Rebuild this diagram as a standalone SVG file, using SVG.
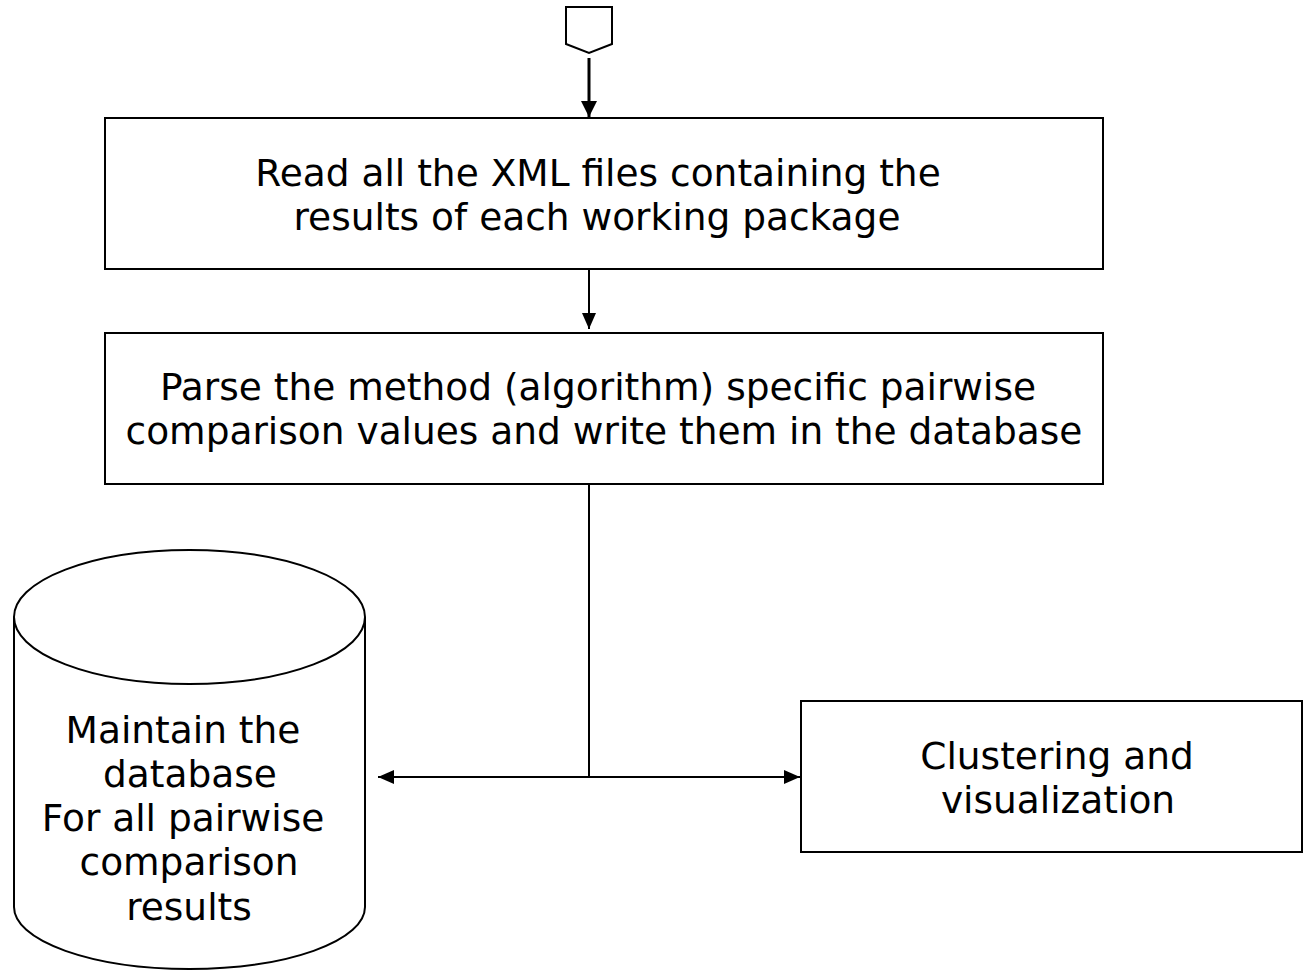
<svg xmlns="http://www.w3.org/2000/svg" width="1303" height="971" viewBox="0 0 1303 971">
<style>
.s{fill:#fff;stroke:#000;stroke-width:2}
.t{font-family:"DejaVu Sans",sans-serif;font-size:37.5px;fill:#000;text-anchor:middle}
.c{stroke:#000;stroke-width:2;fill:none}
</style>
<defs>
<marker id="ah" viewBox="0 0 16 14" refX="16" refY="7" markerWidth="16" markerHeight="14" markerUnits="userSpaceOnUse" orient="auto-start-reverse"><path d="M0,0L16,7L0,14z" fill="#000"/></marker>
<marker id="ahb" viewBox="0 0 16 16" refX="16" refY="8" markerWidth="16" markerHeight="16" markerUnits="userSpaceOnUse" orient="auto"><path d="M0,0L16,8L0,16z" fill="#000"/></marker>
</defs>
<rect width="1303" height="971" fill="#fff"/>
<g id="connectors">
<line x1="589" y1="58" x2="589" y2="117" stroke="#000" stroke-width="3" marker-end="url(#ahb)"/>
<line x1="589" y1="269" x2="589" y2="329" class="c" marker-end="url(#ah)"/>
<line x1="589" y1="481" x2="589" y2="777" class="c"/>
<line x1="378" y1="777" x2="800" y2="777" class="c" marker-start="url(#ah)" marker-end="url(#ah)"/>
</g>
<g id="start">
<path class="s" d="M566,7H612V44L589,53L566,44Z"/>
</g>
<g id="read">
<rect class="s" x="105" y="118" width="998" height="151"/>
<text class="t" x="598" y="186">Read all the XML files containing the</text>
<text class="t" x="597" y="230">results of each working package</text>
</g>
<g id="parse">
<rect class="s" x="105" y="333" width="998" height="151"/>
<text class="t" x="598" y="400">Parse the method (algorithm) specific pairwise</text>
<text class="t" x="604" y="444">comparison values and write them in the database</text>
</g>
<g id="database">
<path class="s" d="M14,617V907A175.5,62 0 0 0 365,907V617"/>
<ellipse class="s" cx="189.5" cy="617" rx="175.5" ry="67"/>
<text class="t" x="183" y="743">Maintain the</text>
<text class="t" x="190" y="787">database</text>
<text class="t" x="183" y="831">For all pairwise</text>
<text class="t" x="189" y="875">comparison</text>
<text class="t" x="189" y="920">results</text>
</g>
<g id="clustering">
<rect class="s" x="801" y="701" width="501" height="151"/>
<text class="t" x="1057" y="769">Clustering and</text>
<text class="t" x="1058" y="813">visualization</text>
</g>
</svg>
